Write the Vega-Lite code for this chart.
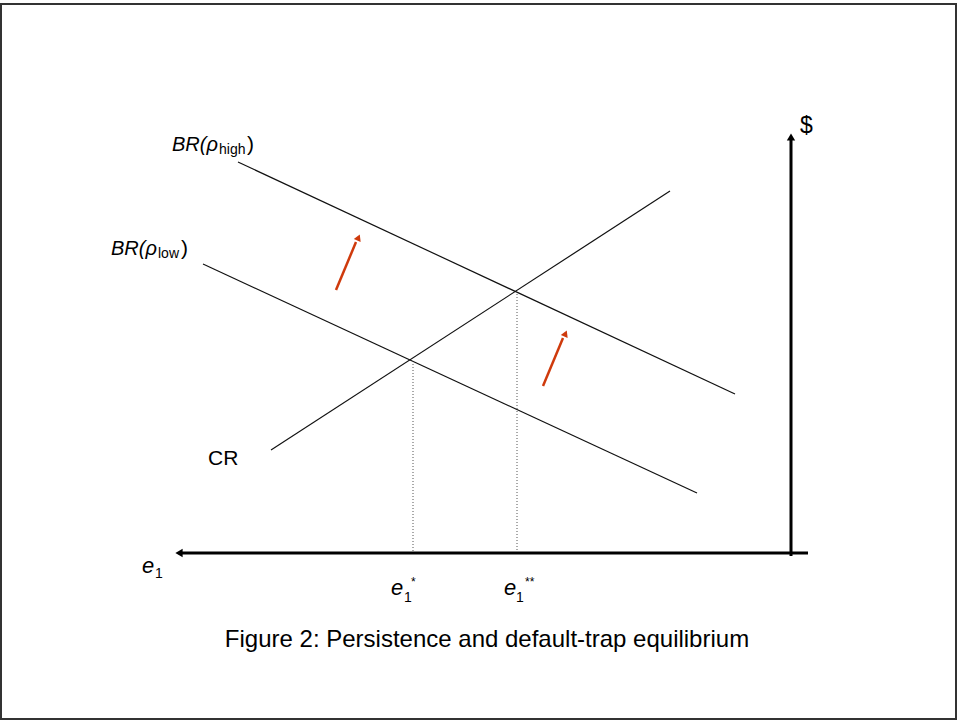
{
  "$schema": "https://vega.github.io/schema/vega-lite/v6.json",
  "width": 957,
  "height": 721,
  "padding": 0,
  "autosize": {"type": "fit", "contains": "padding"},
  "background": "white",
  "config": {"view": {"stroke": null}},
  "layer": [
    {
      "data": {"values": [{"x": 1, "x2": 956, "y": 4, "y2": 719}]},
      "mark": {"type": "rect", "fill": null, "stroke": "#333333", "strokeWidth": 2},
      "encoding": {
        "x": {"field": "x", "type": "quantitative", "scale": {"domain": [0, 957], "nice": false, "zero": false}, "axis": null},
        "x2": {"field": "x2"},
        "y": {"field": "y", "type": "quantitative", "scale": {"domain": [0, 721], "nice": false, "zero": false, "reverse": true}, "axis": null},
        "y2": {"field": "y2"}
      }
    },
    {
      "data": {"values": [
        {"series": "BRhigh", "x": 238, "y": 162},
        {"series": "BRhigh", "x": 735, "y": 394},
        {"series": "BRlow", "x": 203, "y": 264},
        {"series": "BRlow", "x": 697, "y": 493},
        {"series": "CR", "x": 271, "y": 450},
        {"series": "CR", "x": 670, "y": 191}
      ]},
      "mark": {"type": "line", "color": "#111111", "strokeWidth": 1.2},
      "encoding": {
        "x": {"field": "x", "type": "quantitative", "axis": null},
        "y": {"field": "y", "type": "quantitative", "axis": null},
        "detail": {"field": "series"}
      }
    },
    {
      "data": {"values": [
        {"x": 413, "y": 364, "y2": 552},
        {"x": 517, "y": 294, "y2": 552}
      ]},
      "mark": {"type": "rule", "color": "#555555", "strokeWidth": 1, "strokeDash": [1, 2]},
      "encoding": {
        "x": {"field": "x", "type": "quantitative", "axis": null},
        "y": {"field": "y", "type": "quantitative", "axis": null},
        "y2": {"field": "y2"}
      }
    },
    {
      "data": {"values": [
        {"x": 791, "x2": 791, "y": 139, "y2": 556},
        {"x": 181, "x2": 808, "y": 553, "y2": 553}
      ]},
      "mark": {"type": "rule", "color": "#000000", "strokeWidth": 3},
      "encoding": {
        "x": {"field": "x", "type": "quantitative", "axis": null},
        "x2": {"field": "x2"},
        "y": {"field": "y", "type": "quantitative", "axis": null},
        "y2": {"field": "y2"}
      }
    },
    {
      "data": {"values": [{"x": 791, "y": 137}]},
      "mark": {"type": "point", "shape": "triangle-up", "filled": true, "color": "#000000", "size": 70, "opacity": 1},
      "encoding": {
        "x": {"field": "x", "type": "quantitative", "axis": null},
        "y": {"field": "y", "type": "quantitative", "axis": null}
      }
    },
    {
      "data": {"values": [{"x": 179, "y": 553}]},
      "mark": {"type": "point", "shape": "triangle-left", "filled": true, "color": "#000000", "size": 70, "opacity": 1},
      "encoding": {
        "x": {"field": "x", "type": "quantitative", "axis": null},
        "y": {"field": "y", "type": "quantitative", "axis": null}
      }
    },
    {
      "data": {"values": [
        {"arrow": "a", "x": 336, "y": 290},
        {"arrow": "a", "x": 356, "y": 242},
        {"arrow": "b", "x": 543, "y": 386},
        {"arrow": "b", "x": 563, "y": 338}
      ]},
      "mark": {"type": "line", "color": "#cf3a0c", "strokeWidth": 2.5},
      "encoding": {
        "x": {"field": "x", "type": "quantitative", "axis": null},
        "y": {"field": "y", "type": "quantitative", "axis": null},
        "detail": {"field": "arrow"}
      }
    },
    {
      "data": {"values": [
        {"x": 358.5, "y": 237.5},
        {"x": 565.5, "y": 333.5}
      ]},
      "mark": {"type": "point", "shape": "triangle-up", "filled": true, "color": "#cf3a0c", "size": 55, "angle": 23, "opacity": 1},
      "encoding": {
        "x": {"field": "x", "type": "quantitative", "axis": null},
        "y": {"field": "y", "type": "quantitative", "axis": null}
      }
    },
    {
      "data": {"values": [
        {"label": "BR(ρ", "x": 172, "y": 151},
        {"label": "BR(ρ", "x": 111, "y": 255}
      ]},
      "mark": {"type": "text", "font": "Liberation Sans", "fontSize": 20, "fontStyle": "italic", "align": "left", "baseline": "alphabetic", "color": "#000000"},
      "encoding": {
        "x": {"field": "x", "type": "quantitative", "axis": null},
        "y": {"field": "y", "type": "quantitative", "axis": null},
        "text": {"field": "label"}
      }
    },
    {
      "data": {"values": [
        {"label": "e", "x": 142, "y": 573},
        {"label": "e", "x": 391, "y": 595},
        {"label": "e", "x": 504, "y": 595}
      ]},
      "mark": {"type": "text", "font": "Liberation Sans", "fontSize": 22, "fontStyle": "italic", "align": "left", "baseline": "alphabetic", "color": "#000000"},
      "encoding": {
        "x": {"field": "x", "type": "quantitative", "axis": null},
        "y": {"field": "y", "type": "quantitative", "axis": null},
        "text": {"field": "label"}
      }
    },
    {
      "data": {"values": [
        {"label": ")", "x": 247, "y": 151},
        {"label": ")", "x": 181, "y": 255},
        {"label": "CR", "x": 208, "y": 465}
      ]},
      "mark": {"type": "text", "font": "Liberation Sans", "fontSize": 21, "align": "left", "baseline": "alphabetic", "color": "#000000"},
      "encoding": {
        "x": {"field": "x", "type": "quantitative", "axis": null},
        "y": {"field": "y", "type": "quantitative", "axis": null},
        "text": {"field": "label"}
      }
    },
    {
      "data": {"values": [
        {"label": "$", "x": 800, "y": 133}
      ]},
      "mark": {"type": "text", "font": "Liberation Sans", "fontSize": 23, "align": "left", "baseline": "alphabetic", "color": "#000000"},
      "encoding": {
        "x": {"field": "x", "type": "quantitative", "axis": null},
        "y": {"field": "y", "type": "quantitative", "axis": null},
        "text": {"field": "label"}
      }
    },
    {
      "data": {"values": [
        {"label": "high", "x": 219, "y": 154},
        {"label": "low", "x": 158, "y": 258},
        {"label": "1", "x": 155, "y": 578},
        {"label": "1", "x": 404, "y": 602},
        {"label": "1", "x": 516, "y": 602}
      ]},
      "mark": {"type": "text", "font": "Liberation Sans", "fontSize": 14, "align": "left", "baseline": "alphabetic", "color": "#000000"},
      "encoding": {
        "x": {"field": "x", "type": "quantitative", "axis": null},
        "y": {"field": "y", "type": "quantitative", "axis": null},
        "text": {"field": "label"}
      }
    },
    {
      "data": {"values": [
        {"label": "*", "x": 411, "y": 586},
        {"label": "**", "x": 525, "y": 586}
      ]},
      "mark": {"type": "text", "font": "Liberation Sans", "fontSize": 12, "align": "left", "baseline": "alphabetic", "color": "#000000"},
      "encoding": {
        "x": {"field": "x", "type": "quantitative", "axis": null},
        "y": {"field": "y", "type": "quantitative", "axis": null},
        "text": {"field": "label"}
      }
    },
    {
      "data": {"values": [
        {"label": "Figure 2: Persistence and default-trap equilibrium", "x": 487, "y": 647}
      ]},
      "mark": {"type": "text", "font": "Liberation Sans", "fontSize": 24, "align": "center", "baseline": "alphabetic", "color": "#000000"},
      "encoding": {
        "x": {"field": "x", "type": "quantitative", "axis": null},
        "y": {"field": "y", "type": "quantitative", "axis": null},
        "text": {"field": "label"}
      }
    }
  ]
}
